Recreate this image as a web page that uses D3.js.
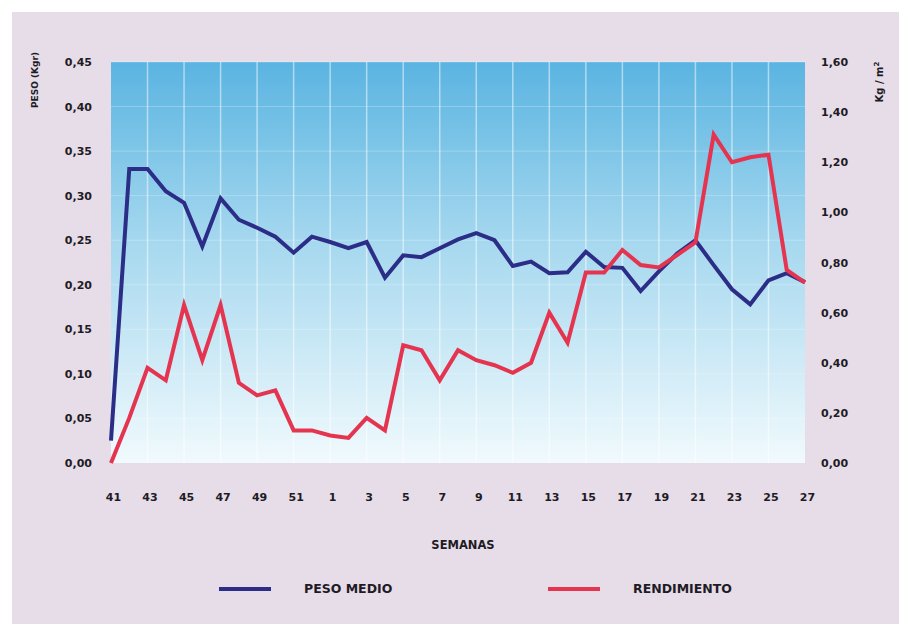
<!DOCTYPE html>
<html>
<head>
<meta charset="utf-8">
<script src="https://cdn.jsdelivr.net/npm/d3@7/dist/d3.min.js"></script>
<style>
  html, body { margin: 0; padding: 0; background: #ffffff; }
  svg { display: block; }
  text { font-family: "DejaVu Sans", sans-serif; font-weight: bold; fill: #1e1b24; }
</style>
</head>
<body>
<svg id="chart" width="899" height="624"></svg>
<script>
// Weeks of the campaign (week 41 of one year to week 27 of the next)
const weeks = ["41","42","43","44","45","46","47","48","49","50","51","52",
  "1","2","3","4","5","6","7","8","9","10","11","12","13","14","15","16",
  "17","18","19","20","21","22","23","24","25","26","27"];

// Average weight (kg) - left axis
const pesoMedio = [0.025, 0.33, 0.33, 0.305, 0.292, 0.243, 0.297, 0.273, 0.264, 0.254, 0.236, 0.254,
  0.248, 0.241, 0.248, 0.208, 0.233, 0.231, 0.241, 0.251, 0.258, 0.250, 0.221, 0.226, 0.213, 0.214,
  0.237, 0.220, 0.219, 0.193, 0.215, 0.235, 0.250, 0.222, 0.195, 0.178, 0.205, 0.213, 0.203];

// Yield (kg / m2) - right axis
const rendimiento = [0.00, 0.18, 0.38, 0.33, 0.63, 0.41, 0.63, 0.32, 0.27, 0.29, 0.13, 0.13,
  0.11, 0.10, 0.18, 0.13, 0.47, 0.45, 0.33, 0.45, 0.41, 0.39, 0.36, 0.40, 0.60, 0.48,
  0.76, 0.76, 0.85, 0.79, 0.78, 0.83, 0.88, 1.31, 1.20, 1.22, 1.23, 0.77, 0.72];

const leftTicks = [0, 0.05, 0.10, 0.15, 0.20, 0.25, 0.30, 0.35, 0.40, 0.45];
const rightTicks = [0, 0.20, 0.40, 0.60, 0.80, 1.00, 1.20, 1.40, 1.60];
const weekLabels = weeks.filter((d, i) => i % 2 === 0);

const seriesNames = ["PESO MEDIO", "RENDIMIENTO"];
const seriesColors = ["#2c2d86", "#e5344f"];

const svg = d3.select("#chart");
const fmt = v => d3.format(".2f")(v).replace(".", ",");

// Lavender backing panel
svg.append("rect").attr("x", 12).attr("y", 12).attr("width", 887).attr("height", 612)
  .attr("fill", "#e6dde9");

const plot = { left: 111, right: 805, top: 62, bottom: 463 };

const x = d3.scalePoint().domain(weeks).range([plot.left, plot.right]).padding(0);
const yL = d3.scaleLinear().domain([0, 0.45]).range([plot.bottom, plot.top]);
const yR = d3.scaleLinear().domain([0, 1.60]).range([plot.bottom, plot.top]);

// Sky gradient of the plotting area
const defs = svg.append("defs");
const grad = defs.append("linearGradient").attr("id", "sky")
  .attr("x1", 0).attr("y1", 0).attr("x2", 0).attr("y2", 1);
grad.append("stop").attr("offset", "0%").attr("stop-color", "#5ab4e1");
grad.append("stop").attr("offset", "45%").attr("stop-color", "#a6d8ef");
grad.append("stop").attr("offset", "100%").attr("stop-color", "#f1fafd");

svg.append("rect")
  .attr("x", plot.left).attr("y", plot.top)
  .attr("width", plot.right - plot.left).attr("height", plot.bottom - plot.top)
  .attr("fill", "url(#sky)");

// Grid lines
const grid = svg.append("g");
grid.selectAll("line.h").data(leftTicks.slice(1)).join("line")
  .attr("x1", plot.left).attr("x2", plot.right)
  .attr("y1", d => yL(d)).attr("y2", d => yL(d))
  .attr("stroke", "#ffffff").attr("stroke-opacity", 0.25).attr("stroke-width", 1);
grid.selectAll("line.v").data(weekLabels.slice(1, -1)).join("line")
  .attr("x1", d => x(d)).attr("x2", d => x(d))
  .attr("y1", plot.top).attr("y2", plot.bottom)
  .attr("stroke", "#ffffff").attr("stroke-opacity", 0.5).attr("stroke-width", 1.5);

// Axes
const axisLeft = d3.axisLeft(yL).tickValues(leftTicks).tickSize(0).tickPadding(0).tickFormat(fmt);
const gL = svg.append("g").attr("transform", `translate(92,0)`).call(axisLeft);
const axisRight = d3.axisRight(yR).tickValues(rightTicks).tickSize(0).tickPadding(0).tickFormat(fmt);
const gR = svg.append("g").attr("transform", `translate(821,0)`).call(axisRight);
const axisBottom = d3.axisBottom(x).tickValues(weekLabels).tickSize(0).tickPadding(0);
const gB = svg.append("g").attr("transform", `translate(2,493)`).call(axisBottom);
[gL, gR, gB].forEach(g => {
  g.select(".domain").remove();
  g.selectAll("text").style("font-size", "11px").attr("fill", "#1e1b24");
});

// Axis titles
svg.append("text").attr("transform", "translate(38,80) rotate(-90)")
  .attr("text-anchor", "middle").style("font-size", "9px").text("PESO (Kgr)");
const rt = svg.append("text").attr("transform", "translate(883,82) rotate(-90)")
  .attr("text-anchor", "middle").style("font-size", "10px");
rt.append("tspan").text("Kg / m");
rt.append("tspan").attr("dy", -4).style("font-size", "7px").text("2");

svg.append("text").attr("x", 463).attr("y", 549).attr("text-anchor", "middle")
  .style("font-size", "11.5px").text("SEMANAS");

// Series lines
const lineL = d3.line().x((d, i) => x(weeks[i])).y(d => yL(d));
const lineR = d3.line().x((d, i) => x(weeks[i])).y(d => yR(d));

svg.append("path").datum(pesoMedio).attr("d", lineL)
  .attr("fill", "none").attr("stroke", seriesColors[0]).attr("stroke-width", 4)
  .attr("stroke-linejoin", "miter").attr("stroke-linecap", "butt");
svg.append("path").datum(rendimiento).attr("d", lineR)
  .attr("fill", "none").attr("stroke", seriesColors[1]).attr("stroke-width", 4)
  .attr("stroke-linejoin", "miter").attr("stroke-linecap", "butt");

// Legend
const legendItems = [
  { name: seriesNames[0], color: seriesColors[0], x: 219 },
  { name: seriesNames[1], color: seriesColors[1], x: 548 }
];
const lg = svg.append("g");
legendItems.forEach(it => {
  lg.append("line").attr("x1", it.x).attr("x2", it.x + 52)
    .attr("y1", 589).attr("y2", 589)
    .attr("stroke", it.color).attr("stroke-width", 4);
  lg.append("text").attr("x", it.x + 85).attr("y", 593)
    .style("font-size", "12.5px").text(it.name);
});
</script>
</body>
</html>
